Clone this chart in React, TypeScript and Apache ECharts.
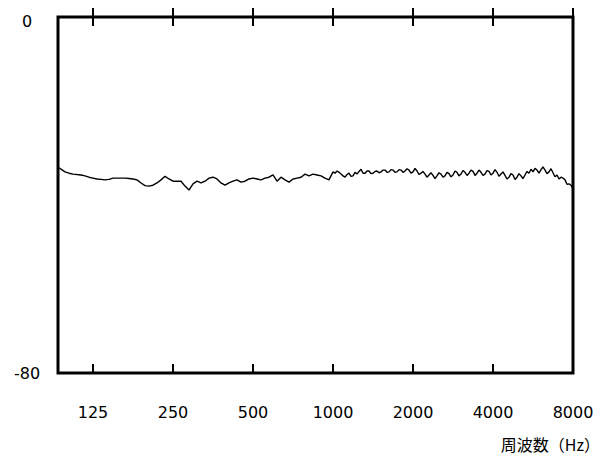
import React, { useEffect, useRef } from "react";
import * as echarts from "echarts";

// Frequency axis ticks (Hz)
const tickHz = [125, 250, 500, 1000, 2000, 4000, 8000];
const freqMin = 92.3;
const freqMax = 8000;
const yTicks = [-80, 0];

// Response curve, per octave band
const freqLow = [92.3, 94.7, 98.1, 101.5, 105.1, 108.8, 112.7, 116.6, 120.7];
const dbLow = [-33.7, -34.2, -34.8, -35.1, -35.3, -35.4, -35.5, -35.7, -36.0];

const freq125 = [125, 129.4, 134.0, 138.7, 143.6, 148.7, 153.9, 159.3, 164.9, 170.8, 176.8, 183.0, 189.5, 196.2, 203.1, 210.2, 217.6, 225.3, 233.3, 241.5];
const db125 = [-36.2, -36.4, -36.5, -36.6, -36.5, -36.2, -36.2, -36.2, -36.2, -36.3, -36.4, -36.6, -37.3, -37.9, -38.0, -37.8, -37.3, -36.6, -35.8, -36.4];

const freq250 = [250, 258.8, 268.0, 277.4, 287.2, 297.3, 307.8, 318.7, 329.9, 341.5, 353.6, 366.0, 378.9, 392.3, 406.1, 420.4, 435.3, 450.6, 466.5, 483.0];
const db250 = [-36.9, -36.9, -36.9, -38.0, -38.9, -37.5, -36.9, -37.3, -36.9, -36.2, -36.0, -36.4, -37.3, -37.8, -37.3, -36.9, -36.6, -37.1, -36.9, -36.4];

const freq500 = [500, 517.7, 535.9, 554.8, 574.4, 594.6, 615.6, 637.3, 659.8, 683.0, 707.1, 732.1, 757.9, 784.6, 812.3, 840.9, 870.6, 901.3, 933.0, 965.9];
const db500 = [-36.2, -36.4, -36.6, -36.2, -36.0, -35.5, -36.9, -36.0, -36.6, -37.1, -36.4, -36.2, -36.0, -35.3, -35.7, -35.3, -35.5, -35.7, -36.2, -36.6];

const freq1000 = [1000, 1017, 1035, 1054, 1072, 1091, 1110, 1129, 1149, 1169, 1189, 1210, 1231, 1253, 1275, 1297, 1320, 1343, 1366, 1390, 1414, 1439, 1464, 1490, 1516, 1543, 1569, 1597, 1625, 1653, 1682, 1712, 1741, 1772, 1803, 1834, 1866, 1899, 1932, 1966];
const db1000 = [-34.8, -35.1, -34.6, -34.9, -35.3, -35.7, -36.0, -35.4, -35.1, -35.8, -35.7, -34.9, -35.3, -34.7, -34.2, -35.1, -35.1, -34.6, -34.6, -35.2, -35.1, -34.7, -34.6, -35.0, -34.8, -34.4, -34.4, -34.9, -34.8, -34.3, -34.4, -34.9, -34.8, -34.3, -34.4, -34.9, -34.6, -34.1, -34.4, -35.1];

const freq2000 = [2000, 2035, 2071, 2107, 2144, 2181, 2219, 2258, 2297, 2337, 2378, 2420, 2462, 2505, 2549, 2594, 2639, 2685, 2732, 2780, 2828, 2878, 2928, 2979, 3031, 3084, 3138, 3193, 3249, 3306, 3364, 3423, 3482, 3543, 3605, 3668, 3732, 3797, 3864, 3931];
const db2000 = [-34.8, -34.0, -34.6, -35.4, -35.1, -34.7, -35.3, -36.0, -35.5, -35.0, -35.6, -36.3, -35.7, -35.0, -35.3, -36.0, -35.7, -34.9, -35.2, -35.9, -35.5, -34.6, -34.9, -35.7, -35.3, -34.5, -34.9, -35.6, -35.1, -34.4, -34.7, -35.6, -35.1, -34.4, -34.9, -35.6, -35.3, -34.5, -34.7, -35.5];

const freq4000 = [4000, 4070, 4141, 4213, 4287, 4362, 4438, 4516, 4595, 4675, 4757, 4840, 4925, 5011, 5098, 5187, 5278, 5370, 5464, 5560, 5657, 5756, 5856, 5958, 6063, 6169, 6277, 6386, 6498, 6612, 6727, 6845, 6964, 7086, 7210, 7336, 7464, 7594, 7727, 7862, 8000];
const db4000 = [-35.1, -34.3, -34.9, -35.8, -35.3, -34.8, -35.6, -36.4, -36.0, -35.2, -35.5, -36.5, -36.0, -35.2, -35.7, -36.3, -35.5, -34.7, -35.1, -34.2, -34.8, -34.0, -34.4, -35.1, -34.3, -33.7, -34.4, -35.2, -34.8, -34.1, -35.0, -35.9, -35.5, -36.4, -36.0, -36.2, -36.6, -37.6, -37.5, -37.8, -38.6];

const FONT = '"DejaVu Sans", "Noto Sans", sans-serif';
const CJK = '"Noto Sans CJK JP", "Noto Sans", sans-serif';

export default function App() {
  const ref = useRef<HTMLDivElement>(null);

  useEffect(() => {
    if (!ref.current) return;
    const chart = echarts.init(ref.current, null, { renderer: "svg" });

    const freqs = [...freqLow, ...freq125, ...freq250, ...freq500, ...freq1000, ...freq2000, ...freq4000];
    const dbs = [...dbLow, ...db125, ...db250, ...db500, ...db1000, ...db2000, ...db4000];
    const data = freqs.map((f, i) => [Math.log2(f), dbs[i]]);

    const tickPos = tickHz.map((h) => Math.log2(h));
    const xMin = Math.log2(freqMin);
    const xMax = Math.log2(freqMax);

    const baseX = (position: string, inside: boolean, withLabels: boolean) => ({
      type: "value",
      position,
      min: xMin,
      max: xMax,
      axisLine: { show: false },
      splitLine: { show: false },
      axisTick: {
        show: true,
        inside,
        length: 9,
        customValues: tickPos,
        lineStyle: { color: "#000", width: 2 },
      },
      axisLabel: withLabels
        ? {
            show: true,
            customValues: tickPos,
            margin: 31,
            color: "#000",
            fontFamily: FONT,
            fontSize: 16,
            formatter: (v: number) => String(Math.round(Math.pow(2, v))),
          }
        : { show: false },
    });

    chart.setOption({
      animation: false,
      backgroundColor: "#fff",
      grid: {
        left: 58,
        right: 27,
        top: 17,
        bottom: 83,
        show: true,
        borderColor: "#000",
        borderWidth: 3,
        backgroundColor: "transparent",
      },
      xAxis: [
        baseX("bottom", false, true),
        baseX("bottom", true, false),
        baseX("top", false, false),
        baseX("top", true, false),
      ],
      yAxis: {
        type: "value",
        min: yTicks[0],
        max: yTicks[1],
        interval: 80,
        axisLine: { show: false },
        axisTick: { show: false },
        splitLine: { show: false },
        axisLabel: {
          show: true,
          align: "center",
          margin: 31,
          color: "#000",
          fontFamily: FONT,
          fontSize: 16,
          formatter: (v: number) => (v === 0 ? "{z|0}" : "{n|" + v + "}"),
          rich: {
            z: { padding: [8, 0, 0, 0], fontFamily: FONT, fontSize: 16, color: "#000" },
            n: { fontFamily: FONT, fontSize: 16, color: "#000" },
          },
        },
      },
      graphic: [
        {
          type: "text",
          right: 0,
          top: 436,
          style: {
            text: "周波数（Hz）",
            fill: "#000",
            font: `16px ${CJK}`,
          },
        },
      ],
      series: [
        {
          type: "line",
          xAxisIndex: 0,
          data,
          showSymbol: false,
          symbol: "none",
          lineStyle: { color: "#000", width: 1.4 },
          silent: true,
        },
      ],
    });

    return () => chart.dispose();
  }, []);

  return (
    <div
      ref={ref}
      style={{ position: "fixed", left: 0, top: 0, width: 600, height: 456 }}
    />
  );
}
